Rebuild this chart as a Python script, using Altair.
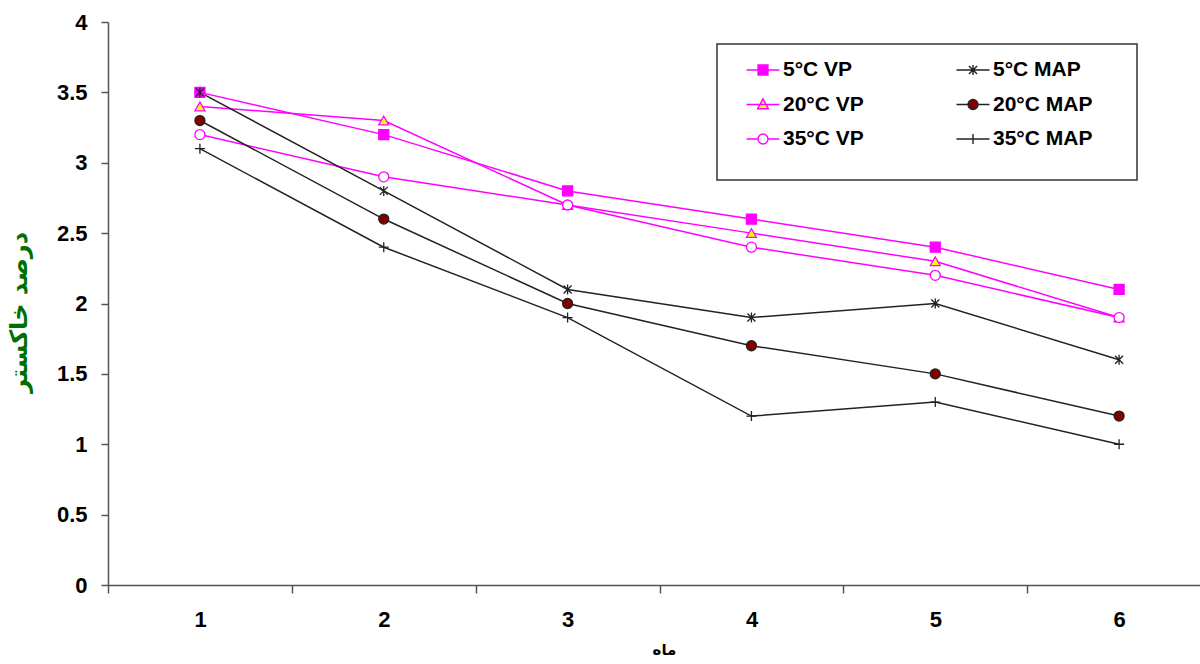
import altair as alt
import pandas as pd

# Months and ash percentage per storage treatment
months = [1, 2, 3, 4, 5, 6]
series_names = ["5°C VP", "20°C VP", "35°C VP", "5°C MAP", "20°C MAP", "35°C MAP"]
vp_5 = [3.5, 3.2, 2.8, 2.6, 2.4, 2.1]
vp_20 = [3.4, 3.3, 2.7, 2.5, 2.3, 1.9]
vp_35 = [3.2, 2.9, 2.7, 2.4, 2.2, 1.9]
map_5 = [3.5, 2.8, 2.1, 1.9, 2.0, 1.6]
map_20 = [3.3, 2.6, 2.0, 1.7, 1.5, 1.2]
map_35 = [3.1, 2.4, 1.9, 1.2, 1.3, 1.0]
values_by_series = {
    "5°C VP": vp_5, "20°C VP": vp_20, "35°C VP": vp_35,
    "5°C MAP": map_5, "20°C MAP": map_20, "35°C MAP": map_35,
}

MAGENTA = "#FF00FF"
DARK = "#222222"
line_colors = [MAGENTA, MAGENTA, MAGENTA, DARK, DARK, DARK]
fill_colors = [MAGENTA, "#FFFF00", "#FFFFFF", DARK, "#800000", DARK]
stroke_colors = [MAGENTA, MAGENTA, MAGENTA, DARK, DARK, DARK]

ASTERISK = "M0,-1V1M-0.8,-0.8L0.8,0.8M-0.8,0.8L0.8,-0.8"
PLUS = "M-1,0H1M0,-1V1"
plot_shapes = ["square", "triangle-up", "circle", ASTERISK, "circle", PLUS]

# Legend keys: a short line segment with a small marker in the middle
seg = "M-1.1,0H-0.36M0.36,0H1.1"
seg_full = "M-1.1,0H1.1"
CIRCLE_SMALL = "M0.33,0A0.33,0.33 0 1,1 -0.33,0A0.33,0.33 0 1,1 0.33,0Z"
legend_shapes = [
    seg_full + "M-0.33,-0.33H0.33V0.33H-0.33Z",
    seg_full + "M0,-0.38L0.36,0.28H-0.36Z",
    seg + CIRCLE_SMALL,
    seg_full + "M0,-0.33V0.33M-0.27,-0.27L0.27,0.27M-0.27,0.27L0.27,-0.27",
    seg + CIRCLE_SMALL,
    seg_full + "M0,-0.33V0.33",
]

rows = []
for name in series_names:
    for m, v in zip(months, values_by_series[name]):
        rows.append({"month": m, "ash": v, "series": name})
df = pd.DataFrame(rows)

x_enc = alt.X(
    "month:Q",
    scale=alt.Scale(domain=[0.5, 6.44], nice=False, zero=False),
    axis=alt.Axis(
        title="ماه",
        values=[0.5, 1.5, 2.5, 3.5, 4.5, 5.5],
        labelExpr="datum.value + 0.5",
        labelOffset=92,
        labelFlush=False,
        labelBound=False,
        labelOverlap=False,
        tickSize=8,
        labelPadding=16,
        labelFont="Liberation Sans",
        labelFontSize=22,
        labelFontWeight="bold",
        labelColor="#000000",
        titleFont="DejaVu Sans",
        titleFontSize=15,
        titleFontWeight="bold",
        titleColor="#000000",
        titlePadding=12,
        titleX=556,
        domainColor="#555555",
        domainWidth=1.5,
        tickColor="#555555",
        tickWidth=1.5,
        grid=False,
    ),
)
y_enc = alt.Y(
    "ash:Q",
    scale=alt.Scale(domain=[0, 4], nice=False),
    axis=alt.Axis(
        title="درصد خاکستر",
        values=[0, 0.5, 1, 1.5, 2, 2.5, 3, 3.5, 4],
        format="~g",
        tickSize=7,
        labelPadding=14,
        labelFont="Liberation Sans",
        labelFontSize=22,
        labelFontWeight="bold",
        labelColor="#000000",
        titleFont="DejaVu Sans",
        titleFontSize=24,
        titleFontWeight="bold",
        titleColor="#007000",
        titlePadding=25,
        titleY=290,
        domainColor="#555555",
        domainWidth=1.5,
        tickColor="#555555",
        tickWidth=1.5,
        grid=False,
    ),
)

lines = alt.Chart(df).mark_line(strokeWidth=1.5).encode(
    x=x_enc,
    y=y_enc,
    color=alt.Color("series:N", scale=alt.Scale(domain=series_names, range=line_colors), legend=None),
    detail="series:N",
)

points = alt.Chart(df).mark_point(filled=True, opacity=1, size=100, strokeWidth=1.3).encode(
    x="month:Q",
    y="ash:Q",
    shape=alt.Shape("series:N", scale=alt.Scale(domain=series_names, range=plot_shapes), legend=None),
    fill=alt.Fill("series:N", scale=alt.Scale(domain=series_names, range=fill_colors), legend=None),
    stroke=alt.Stroke("series:N", scale=alt.Scale(domain=series_names, range=stroke_colors), legend=None),
)

# The legend's white bottom title only serves to widen and heighten the framed box
legend_def = alt.Legend(
    title="M" * 40,
    titleOrient="bottom",
    titleFont="Liberation Sans",
    titleFontSize=12,
    titleFontWeight="normal",
    titleColor="#FFFFFF",
    titleLimit=1000,
    titlePadding=10,
    orient="none",
    legendX=609,
    legendY=22,
    columns=2,
    columnPadding=73,
    rowPadding=8.5,
    padding=10,
    symbolSize=900,
    symbolOffset=20,
    symbolStrokeWidth=1.4,
    labelFont="Liberation Sans",
    labelFontSize=21,
    labelFontWeight="bold",
    labelColor="#000000",
    labelOffset=4,
    labelLimit=400,
    fillColor="#FFFFFF",
    strokeColor="#333333",
)

legend_layer = alt.Chart(df).mark_point(filled=True, opacity=1, size=0).encode(
    x="month:Q",
    y="ash:Q",
    shape=alt.Shape("series:N", scale=alt.Scale(domain=series_names, range=legend_shapes), legend=legend_def),
    fill=alt.Fill("series:N", scale=alt.Scale(domain=series_names, range=fill_colors), legend=legend_def),
    stroke=alt.Stroke("series:N", scale=alt.Scale(domain=series_names, range=stroke_colors), legend=legend_def),
)

chart = (
    alt.layer(lines, points, legend_layer)
    .resolve_scale(shape="independent", fill="independent", stroke="independent")
    .properties(
        width=1092,
        height=563,
        autosize=alt.AutoSizeParams(type="none"),
        padding={"left": 108, "top": 22, "right": 0, "bottom": 79},
        background="#FFFFFF",
    )
    .configure_view(stroke=None)
    .configure_legend(strokeWidth=1.5)
)

chart.save("out.html", embed_options={"renderer": "svg", "actions": False})
